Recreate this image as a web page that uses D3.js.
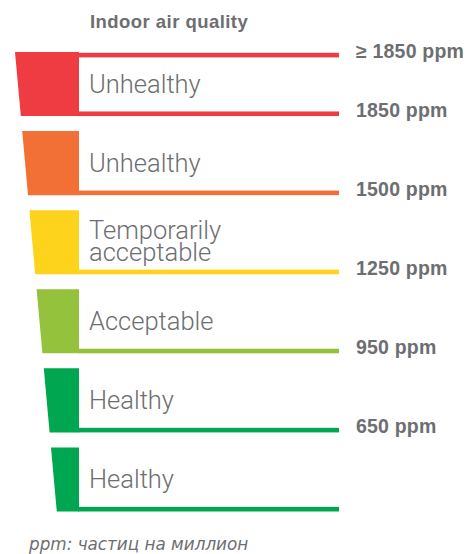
<!DOCTYPE html>
<html>
<head>
<meta charset="utf-8">
<script src="https://cdn.jsdelivr.net/npm/d3@7"></script>
<style>
  html, body { margin: 0; padding: 0; background: #ffffff; }
  svg { display: block; }
</style>
</head>
<body>
<svg id="chart" width="468" height="554"></svg>
<script>
// ---- data ----
const levels = ["Unhealthy", "Unhealthy", "Temporarily\nacceptable", "Acceptable", "Healthy", "Healthy"];
const thresholds = [1850, 1500, 1250, 950, 650, null];   // ppm at the lower line of each band
const topLabel = "≥ 1850 ppm";
const colors = ["#ef3c42", "#f26f36", "#fdd31b", "#94c23d", "#00a650", "#00a650"];
const title = "Indoor air quality";
const footnote = "ppm: частиц на миллион";

// ---- layout ----
const svg = d3.select("#chart");
const gray = "#6d6e71";

const y = d3.scaleBand()
  .domain(d3.range(levels.length))
  .range([52, 511.5])
  .paddingInner(0.19)
  .paddingOuter(0);

// left slanted edge of the blocks: x as function of y
const edge = d3.scaleLinear().domain([52, 511.5]).range([15, 56.8]);
const blockRight = 79, lineEnd = 339, lineW = 4.6;

svg.append("text")
  .attr("x", 90).attr("y", 28)
  .attr("font-family", "Liberation Sans, Arial, sans-serif")
  .attr("font-weight", 700)
  .attr("font-size", 18.5)
  .attr("letter-spacing", 0.45)
  .attr("fill", gray)
  .text(title);

const g = svg.append("g").selectAll("g")
  .data(levels.map((l, i) => ({ label: l, t: thresholds[i], c: colors[i], i })))
  .join("g");

g.append("path")
  .attr("fill", d => d.c)
  .attr("d", d => {
    const t = y(d.i), b = y(d.i) + y.bandwidth();
    return `M${edge(t)},${t}L${blockRight},${t}L${blockRight},${b}L${edge(b)},${b}Z`;
  });

g.append("rect")
  .attr("x", blockRight - 1)
  .attr("y", d => y(d.i) + y.bandwidth() - lineW)
  .attr("width", lineEnd - blockRight + 1)
  .attr("height", lineW)
  .attr("fill", d => d.c);

// top line of the first band
g.filter(d => d.i === 0).append("rect")
  .attr("x", blockRight - 1)
  .attr("y", d => y(d.i) + 0.8)
  .attr("width", lineEnd - blockRight + 1)
  .attr("height", lineW)
  .attr("fill", d => d.c);

g.each(function (d) {
  const lines = d.label.split("\n");
  const t = d3.select(this).append("text")
    .attr("font-family", "Roboto, sans-serif")
    .attr("font-weight", 300)
    .attr("font-size", 25.5)
    .attr("fill", gray);
  const top = y(d.i);
  if (lines.length === 1) {
    t.append("tspan").attr("x", 89).attr("y", top + 40.5).text(lines[0]);
  } else {
    lines.forEach((s, k) => t.append("tspan").attr("x", 89).attr("y", top + 28.5 + k * 22.5).text(s));
  }
});

const ppmFont = { family: "Liberation Sans, Arial, sans-serif", size: 19.5 };
g.filter(d => d.t !== null).append("text")
  .attr("x", 356)
  .attr("y", d => y(d.i) + y.bandwidth() + 0.5)
  .attr("font-family", ppmFont.family)
  .attr("font-weight", 700)
  .attr("font-size", ppmFont.size)
  .attr("letter-spacing", 0.2)
  .attr("fill", gray)
  .text(d => d.t + " ppm");

svg.append("text")
  .attr("x", 356)
  .attr("y", y(0) + 5.5)
  .attr("font-family", ppmFont.family)
  .attr("font-weight", 700)
  .attr("font-size", ppmFont.size)
  .attr("letter-spacing", 0.2)
  .attr("fill", gray)
  .text(topLabel);

svg.append("text")
  .attr("x", 29).attr("y", 550)
  .attr("font-family", "DejaVu Sans, sans-serif")
  .attr("font-style", "italic")
  .attr("font-size", 16.8)
  .attr("fill", gray)
  .text(footnote);
</script>
</body>
</html>
